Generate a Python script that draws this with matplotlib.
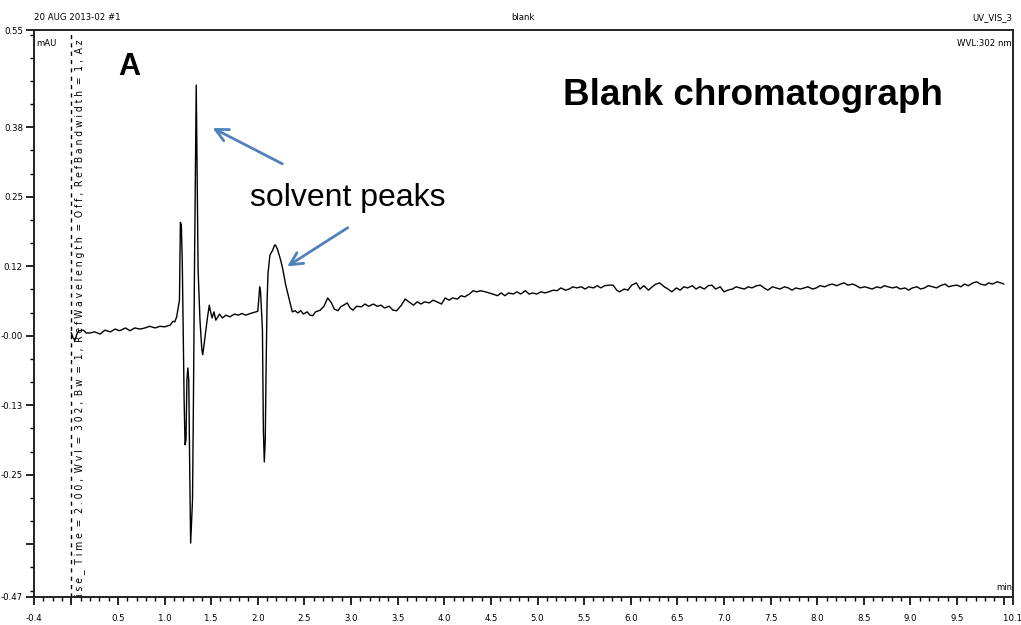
import numpy as np
import matplotlib.pyplot as plt
from matplotlib.ticker import FixedLocator, MultipleLocator, NullFormatter

# retention time (min) and detector signal (mAU)
time_min = [
    0.00, 0.02, 0.04, 0.06, 0.08, 0.13, 0.16, 0.20, 0.25, 0.31, 0.36, 0.42,
    0.47, 0.52, 0.58, 0.63, 0.68, 0.74, 0.79, 0.84, 0.90, 0.95, 1.00, 1.06,
    1.09, 1.11, 1.13, 1.16, 1.17, 1.18, 1.19, 1.20, 1.21, 1.22, 1.23, 1.24,
    1.25, 1.26, 1.27, 1.28, 1.30, 1.31, 1.32, 1.33, 1.34, 1.35, 1.36, 1.38,
    1.40, 1.41, 1.43, 1.46, 1.48, 1.49, 1.51, 1.53, 1.55, 1.59, 1.62, 1.66,
    1.70, 1.75, 1.79, 1.83, 1.87, 1.92, 1.96, 2.00, 2.01, 2.02, 2.03, 2.05,
    2.06, 2.07, 2.08, 2.09, 2.10, 2.11, 2.13, 2.16, 2.18, 2.19, 2.21, 2.23,
    2.25, 2.27, 2.30, 2.34, 2.37, 2.40, 2.43, 2.46, 2.49, 2.53, 2.56, 2.59,
    2.62, 2.67, 2.71, 2.75, 2.79, 2.82, 2.86, 2.89, 2.92, 2.96, 2.99, 3.02,
    3.06, 3.11, 3.15, 3.19, 3.24, 3.28, 3.32, 3.36, 3.41, 3.45, 3.49, 3.54,
    3.58, 3.62, 3.67, 3.71, 3.75, 3.79, 3.84, 3.88, 3.92, 3.97, 4.01, 4.05,
    4.09, 4.14, 4.18, 4.22, 4.27, 4.31, 4.35, 4.39, 4.44, 4.48, 4.52, 4.57,
    4.61, 4.65, 4.69, 4.74, 4.78, 4.82, 4.87, 4.91, 4.95, 4.99, 5.04, 5.08,
    5.12, 5.17, 5.21, 5.25, 5.30, 5.34, 5.38, 5.42, 5.47, 5.51, 5.55, 5.60,
    5.64, 5.68, 5.72, 5.77, 5.81, 5.85, 5.88, 5.93, 5.97, 6.01, 6.06, 6.10,
    6.14, 6.19, 6.23, 6.27, 6.31, 6.36, 6.40, 6.44, 6.49, 6.53, 6.57, 6.61,
    6.66, 6.70, 6.74, 6.79, 6.83, 6.87, 6.91, 6.96, 7.00, 7.04, 7.09, 7.13,
    7.17, 7.22, 7.26, 7.30, 7.35, 7.39, 7.43, 7.47, 7.52, 7.56, 7.60, 7.65,
    7.69, 7.73, 7.77, 7.82, 7.86, 7.90, 7.95, 7.99, 8.03, 8.08, 8.12, 8.16,
    8.21, 8.25, 8.29, 8.33, 8.38, 8.42, 8.46, 8.51, 8.55, 8.59, 8.64, 8.68,
    8.72, 8.76, 8.81, 8.85, 8.89, 8.94, 8.98, 9.02, 9.07, 9.11, 9.15, 9.19,
    9.24, 9.28, 9.32, 9.37, 9.41, 9.45, 9.50, 9.54, 9.58, 9.62, 9.67, 9.71,
    9.75, 9.80, 9.84, 9.88, 9.93, 9.97, 10.00,
]
signal = [
    0.005, -0.004, -0.008, 0.003, 0.009, 0.010, 0.005, 0.005, 0.007, 0.003, 0.010, 0.007,
    0.012, 0.009, 0.014, 0.009, 0.014, 0.012, 0.014, 0.017, 0.014, 0.017, 0.016, 0.019,
    0.026, 0.025, 0.034, 0.064, 0.204, 0.199, 0.136, 0.010, -0.116, -0.196, -0.188, -0.080,
    -0.058, -0.080, -0.241, -0.373, -0.296, -0.116, 0.100, 0.280, 0.451, 0.280, 0.118, 0.028,
    -0.025, -0.034, -0.008, 0.032, 0.055, 0.046, 0.032, 0.043, 0.028, 0.039, 0.032, 0.037,
    0.034, 0.039, 0.037, 0.040, 0.037, 0.040, 0.042, 0.044, 0.064, 0.088, 0.079, 0.010,
    -0.170, -0.227, -0.188, -0.049, 0.064, 0.113, 0.145, 0.154, 0.163, 0.163, 0.156, 0.145,
    0.133, 0.118, 0.091, 0.064, 0.043, 0.045, 0.041, 0.045, 0.039, 0.043, 0.037, 0.036,
    0.043, 0.046, 0.053, 0.068, 0.059, 0.048, 0.045, 0.052, 0.055, 0.059, 0.050, 0.046,
    0.053, 0.052, 0.057, 0.053, 0.057, 0.053, 0.055, 0.050, 0.053, 0.046, 0.045, 0.055,
    0.066, 0.061, 0.055, 0.061, 0.057, 0.061, 0.059, 0.064, 0.061, 0.057, 0.068, 0.064,
    0.068, 0.066, 0.072, 0.070, 0.075, 0.081, 0.079, 0.081, 0.079, 0.077, 0.075, 0.072,
    0.077, 0.072, 0.077, 0.075, 0.079, 0.075, 0.081, 0.075, 0.077, 0.075, 0.079, 0.077,
    0.079, 0.082, 0.081, 0.086, 0.082, 0.084, 0.088, 0.086, 0.088, 0.084, 0.088, 0.086,
    0.090, 0.086, 0.090, 0.091, 0.091, 0.082, 0.079, 0.084, 0.082, 0.091, 0.095, 0.084,
    0.090, 0.082, 0.088, 0.093, 0.095, 0.088, 0.084, 0.079, 0.086, 0.082, 0.088, 0.086,
    0.090, 0.084, 0.088, 0.084, 0.090, 0.091, 0.084, 0.088, 0.079, 0.082, 0.084, 0.088,
    0.086, 0.084, 0.088, 0.086, 0.090, 0.091, 0.086, 0.082, 0.088, 0.086, 0.084, 0.088,
    0.086, 0.082, 0.086, 0.084, 0.086, 0.088, 0.084, 0.086, 0.090, 0.088, 0.091, 0.093,
    0.090, 0.093, 0.095, 0.091, 0.093, 0.090, 0.086, 0.088, 0.086, 0.084, 0.088, 0.086,
    0.090, 0.088, 0.086, 0.088, 0.084, 0.086, 0.082, 0.086, 0.088, 0.084, 0.086, 0.090,
    0.088, 0.086, 0.090, 0.093, 0.088, 0.090, 0.091, 0.088, 0.093, 0.090, 0.095, 0.097,
    0.093, 0.091, 0.095, 0.093, 0.097, 0.095, 0.093,
]

ytick_vals = [0.55, 0.375, 0.25, 0.125, 0.0, -0.125, -0.25, -0.375, -0.47]
ytick_labels = ['0.55', '0.38', '0.25', '0.12', '-0.00', '-0.13', '-0.25', '', '-0.47']
xtick_vals = [-0.4, 0.0, 0.5, 1.0, 1.5, 2.0, 2.5, 3.0, 3.5, 4.0, 4.5, 5.0, 5.5,
              6.0, 6.5, 7.0, 7.5, 8.0, 8.5, 9.0, 9.5, 10.0, 10.1]
xtick_labels = ['-0.4', '', '0.5', '1.0', '1.5', '2.0', '2.5', '3.0', '3.5', '4.0',
                '4.5', '5.0', '5.5', '6.0', '6.5', '7.0', '7.5', '8.0', '8.5', '9.0',
                '9.5', '', '10.1']

narrow = dict(family='DejaVu Sans', fontstretch='condensed', fontsize=6.8)
arial = ['Liberation Sans', 'DejaVu Sans']
arrow_blue = '#4f81bd'

fig = plt.figure(figsize=(10.21, 6.25), dpi=100)
ax = fig.add_axes([0.0333, 0.0448, 0.9589, 0.9072])

ax.plot(time_min, signal, color='black', lw=1.0)
ax.axvline(0.0, color='black', lw=1.0, ls=(0, (3, 3)))

ax.set_xlim(-0.4, 10.1)
ax.set_ylim(-0.47, 0.55)

ax.yaxis.set_major_locator(FixedLocator(ytick_vals))
ax.set_yticklabels(ytick_labels, **narrow)
ax.yaxis.set_minor_locator(MultipleLocator(0.125 / 3))
ax.xaxis.set_major_locator(FixedLocator(xtick_vals))
ax.set_xticklabels(xtick_labels, **narrow)
ax.xaxis.set_minor_locator(MultipleLocator(0.1))
ax.xaxis.set_minor_formatter(NullFormatter())
ax.tick_params(which='major', length=6, width=1.2, direction='out', pad=2)
ax.tick_params(axis='x', which='major', pad=6)
ax.tick_params(which='minor', length=3, width=1.0, direction='out')
ax.tick_params(top=False, right=False)
for s in ax.spines.values():
    s.set_linewidth(1.4)
    s.set_color('#222222')

# header and corner labels
fig.text(34 / 1021, 1 - 18 / 625, '20 AUG 2013-02 #1', ha='left', va='center', **narrow)
fig.text(523 / 1021, 1 - 18 / 625, 'blank', ha='center', va='center', **narrow)
fig.text(1012 / 1021, 1 - 18 / 625, 'UV_VIS_3', ha='right', va='center', **narrow)
ax.text(0.002, 0.985, 'mAU', transform=ax.transAxes, ha='left', va='top', **narrow)
ax.text(0.999, 0.985, 'WVL:302 nm', transform=ax.transAxes, ha='right', va='top',
        **narrow)
ax.text(0.999, 0.008, 'min', transform=ax.transAxes, ha='right', va='bottom', **narrow)

# method string printed along the injection marker
ax.text(0.093, -0.468,
        'i s e _  T i m e  =  2 . 0 0 ,  W v l  =  3 0 2 ,  B w  =  1 ,  '
        'R e f W a v e l e n g t h  =  O f f ,  R e f B a n d w i d t h  =  1 ,  A z',
        rotation=90, family='DejaVu Sans', fontstretch='condensed', fontsize=7.4,
        ha='center', va='bottom')

# annotations
ax.text(0.50, 0.483, 'A', family=arial, fontsize=22, fontweight='bold',
        ha='left', va='center')
ax.text(5.27, 0.433, 'Blank chromatograph', family=arial, fontsize=26.5,
        fontweight='bold', ha='left', va='center')
ax.text(1.92, 0.248, 'solvent peaks', family=arial, fontsize=23,
        ha='left', va='center')
ax.annotate('', xy=(1.49, 0.376), xytext=(2.29, 0.307),
            arrowprops=dict(arrowstyle='->,head_length=0.9,head_width=0.45',
                            color=arrow_blue, lw=2))
ax.annotate('', xy=(2.29, 0.122), xytext=(2.99, 0.197),
            arrowprops=dict(arrowstyle='->,head_length=0.9,head_width=0.45',
                            color=arrow_blue, lw=2))

fig.savefig('out.png', dpi=100)
